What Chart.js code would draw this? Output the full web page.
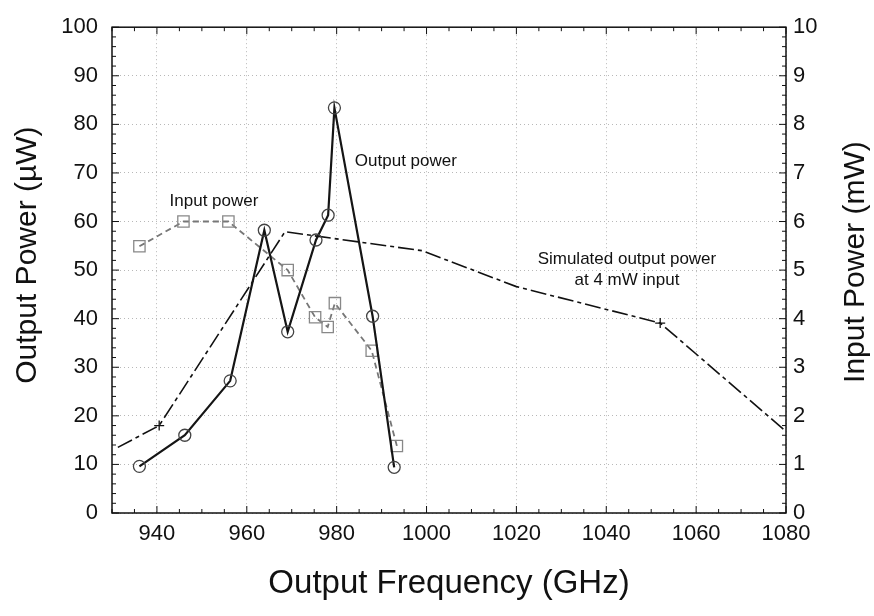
<!DOCTYPE html>
<html lang="en">
<head>
    <meta charset="UTF-8">
    <title>Output Power vs Output Frequency</title>
    <style>
        html, body { margin: 0; padding: 0; background: #fff; }
        #wrap { width: 874px; height: 616px; }
    </style>
</head>
<body>
<div id="wrap"><canvas id="powerChart"></canvas></div>

<script src="https://cdn.jsdelivr.net/npm/chart.js"></script>
<script>
// measured output power (uW)
const outFreq = [936.1, 946.2, 956.3, 963.9, 969.1, 975.4, 978.1, 979.5, 988.0, 992.8];
const outPower = [9.6, 16.0, 27.2, 58.2, 37.3, 56.2, 61.3, 83.4, 40.5, 9.4];

// input power (mW, right axis)
const inFreq = [936.1, 945.9, 955.9, 969.1, 975.2, 978.0, 979.6, 987.8, 993.4];
const inPower = [5.49, 6.0, 6.0, 5.0, 4.03, 3.83, 4.32, 3.34, 1.38];

// simulated output power at 4 mW input (uW)
const simFreq = [931.3, 940.5, 968.5, 999, 1020, 1052, 1080];
const simPower = [13.5, 18.0, 57.9, 54.0, 46.6, 39.1, 16.8];

const xTicks = [940, 960, 980, 1000, 1020, 1040, 1060, 1080];
const leftTicks = [0, 10, 20, 30, 40, 50, 60, 70, 80, 90, 100];
const rightTicks = [0, 1, 2, 3, 4, 5, 6, 7, 8, 9, 10];

// text labels inside the plot, placed in data units
const notes = [
    { text: 'Input power', x: 952.7, y: 64.1 },
    { text: 'Output power', x: 995.4, y: 72.4 },
    { text: 'Simulated output power', x: 1044.6, y: 52.3 },
    { text: 'at 4 mW input', x: 1044.6, y: 47.9 }
];

const FONT = "'Liberation Sans', Arial, Helvetica, sans-serif";

function pairs(xs, ys) {
    return xs.map((x, i) => ({ x: x, y: ys[i] }));
}

// frame, inward minor ticks, y titles and the text notes
const framePlugin = {
    id: 'frame',
    afterDatasetsDraw(chart) {
        const ctx = chart.ctx;
        const a = chart.chartArea;
        const sx = chart.scales.x, sy = chart.scales.y, sy2 = chart.scales.y2;
        ctx.save();
        ctx.strokeStyle = '#111';
        ctx.lineWidth = 1.5;
        ctx.strokeRect(a.left, a.top, a.right - a.left, a.bottom - a.top);

        ctx.lineWidth = 1;
        ctx.beginPath();
        for (let v = 930; v <= 1080; v += 5) {
            const px = sx.getPixelForValue(v);
            const len = xTicks.includes(v) ? 7 : 4;
            ctx.moveTo(px, a.bottom); ctx.lineTo(px, a.bottom - len);
            ctx.moveTo(px, a.top); ctx.lineTo(px, a.top + len);
        }
        for (let v = 0; v <= 100; v += 2) {
            const py = sy.getPixelForValue(v);
            const len = v % 10 === 0 ? 7 : 4;
            ctx.moveTo(a.left, py); ctx.lineTo(a.left + len, py);
        }
        for (let i = 0; i <= 50; i++) {
            const py = sy2.getPixelForValue(i * 0.2);
            const len = i % 5 === 0 ? 7 : 4;
            ctx.moveTo(a.right, py); ctx.lineTo(a.right - len, py);
        }
        ctx.stroke();

        ctx.fillStyle = '#111';
        ctx.font = '17px ' + FONT;
        ctx.textAlign = 'center';
        ctx.textBaseline = 'middle';
        notes.forEach(n => {
            ctx.fillText(n.text, sx.getPixelForValue(n.x), sy.getPixelForValue(n.y));
        });

        // both y titles read bottom to top
        const midY = (a.top + a.bottom) / 2;
        ctx.font = '30px ' + FONT;
        ctx.save();
        ctx.translate(28, midY - 15);
        ctx.rotate(-Math.PI / 2);
        ctx.fillText('Output Power (\u00b5W)', 0, 0);
        ctx.restore();
        ctx.save();
        ctx.translate(856, midY - 8);
        ctx.rotate(-Math.PI / 2);
        ctx.fillText('Input Power (mW)', 0, 0);
        ctx.restore();
        ctx.restore();
    }
};

const ctx = document.getElementById('powerChart').getContext('2d');
new Chart(ctx, {
    type: 'scatter',
    data: {
        datasets: [
            {
                label: 'Simulated output power',
                data: pairs(simFreq, simPower),
                yAxisID: 'y',
                showLine: true,
                borderColor: '#111',
                borderWidth: 1.6,
                borderDash: [16, 4, 4, 4],
                pointStyle: 'cross',
                pointRadius: c => (c.dataIndex === 1 || c.dataIndex === 5) ? 5 : 0,
                pointBorderColor: '#111',
                pointBorderWidth: 1.3,
                order: 3
            },
            {
                label: 'Input power',
                data: pairs(inFreq, inPower),
                yAxisID: 'y2',
                showLine: true,
                borderColor: '#777',
                borderWidth: 1.8,
                borderDash: [6, 4],
                pointStyle: 'rect',
                pointRadius: 8,
                pointBorderColor: '#888',
                pointBackgroundColor: 'rgba(255,255,255,0)',
                pointBorderWidth: 1.3,
                order: 2
            },
            {
                label: 'Output power',
                data: pairs(outFreq, outPower),
                yAxisID: 'y',
                showLine: true,
                borderColor: '#151515',
                borderWidth: 2.2,
                pointStyle: 'circle',
                pointRadius: 6,
                pointBorderColor: '#444',
                pointBackgroundColor: 'rgba(255,255,255,0)',
                pointBorderWidth: 1.3,
                order: 1
            }
        ]
    },
    plugins: [framePlugin],
    options: {
        responsive: true,
        maintainAspectRatio: false,
        animation: false,
        layout: { padding: { top: 20, left: 0, right: 0, bottom: 0 } },
        plugins: {
            legend: { display: false },
            tooltip: { enabled: false }
        },
        scales: {
            x: {
                type: 'linear',
                position: 'bottom',
                min: 930,
                max: 1080,
                afterBuildTicks: s => { s.ticks = xTicks.map(v => ({ value: v })); },
                afterFit: s => { s.height = 103; },
                grid: { color: '#b8b8b8', lineWidth: 1, drawTicks: false },
                border: { display: false, dash: [1, 3] },
                ticks: {
                    color: '#111', padding: 8, font: { family: FONT, size: 22 },
                    callback: v => String(v)
                },
                title: {
                    display: true,
                    text: 'Output Frequency (GHz)',
                    color: '#111',
                    font: { family: FONT, size: 33 },
                    padding: { top: 0, bottom: 12 }
                }
            },
            y: {
                type: 'linear',
                position: 'left',
                min: 0,
                max: 100,
                afterBuildTicks: s => { s.ticks = leftTicks.map(v => ({ value: v })); },
                afterFit: s => { s.width = 112; },
                grid: { color: '#b8b8b8', lineWidth: 1, drawTicks: false },
                border: { display: false, dash: [1, 3] },
                ticks: {
                    color: '#111', padding: 14, font: { family: FONT, size: 22 },
                    callback: v => String(v)
                }
            },
            y2: {
                type: 'linear',
                position: 'right',
                min: 0,
                max: 10,
                afterBuildTicks: s => { s.ticks = rightTicks.map(v => ({ value: v })); },
                afterFit: s => { s.width = 88; },
                grid: { drawOnChartArea: false, drawTicks: false },
                border: { display: false },
                ticks: {
                    color: '#111', padding: 7, font: { family: FONT, size: 22 },
                    callback: v => String(v)
                }
            }
        }
    }
});
</script>
</body>
</html>
